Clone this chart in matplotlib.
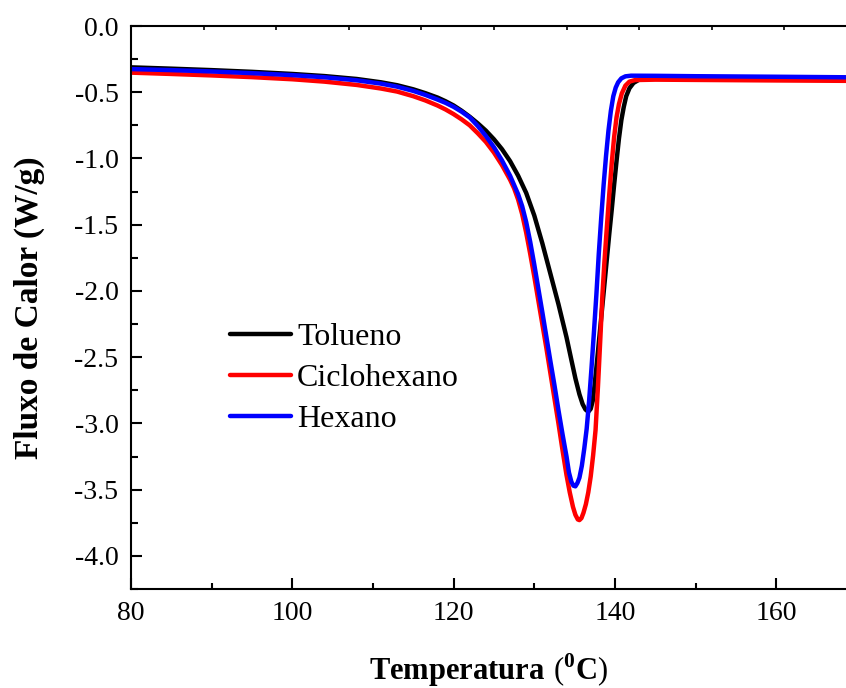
import matplotlib
matplotlib.use("Agg")
import matplotlib.pyplot as plt
from matplotlib.ticker import MultipleLocator

plt.rcParams["font.family"] = "Liberation Serif"
plt.rcParams["mathtext.fontset"] = "custom"
plt.rcParams["mathtext.rm"] = "Liberation Serif"
plt.rcParams["mathtext.bf"] = "Liberation Serif:bold"

# DSC curves (heat flow vs temperature) for each solvent
t_tolueno = [80, 85, 90, 95, 100, 104, 108, 111, 113, 115, 116.5, 118, 119,
             120, 121, 122, 123, 124, 125, 126, 127, 128, 129, 130, 131, 132,
             133, 134, 134.6, 135.1, 135.6, 136.0, 136.35, 136.7, 137.0, 137.25,
             137.5, 137.8, 138.1, 138.4, 138.7, 139.0, 139.3, 139.6, 139.9,
             140.2, 140.5, 140.8, 141.1, 141.4, 141.8, 142.3, 143, 144, 150, 160,
             168.7]
q_tolueno = [-0.312, -0.322, -0.333, -0.346, -0.362, -0.378, -0.40, -0.425,
             -0.447, -0.478, -0.507, -0.54, -0.568, -0.60, -0.64, -0.685,
             -0.735, -0.79, -0.855, -0.93, -1.02, -1.13, -1.26, -1.43, -1.64,
             -1.87, -2.10, -2.35, -2.52, -2.66, -2.78, -2.855, -2.895, -2.912,
             -2.89, -2.83, -2.70, -2.52, -2.33, -2.14, -1.95, -1.76, -1.57,
             -1.39, -1.20, -1.02, -0.85, -0.71, -0.61, -0.53, -0.47, -0.43,
             -0.405, -0.398, -0.395, -0.397, -0.40]

t_ciclohexano = [80, 85, 90, 95, 100, 104, 108, 111, 113, 115, 116.5, 118, 119,
                 120, 121, 122, 123, 124, 125, 126, 127, 127.5, 128, 128.5, 129,
                 129.5, 130, 130.5, 131, 131.5, 132, 132.5, 133, 133.5, 134,
                 134.4, 134.8, 135.1, 135.4, 135.6, 135.85, 136.1, 136.4, 136.7,
                 137.0, 137.3, 137.6, 137.9, 138.2, 138.45, 138.7, 139.0, 139.3,
                 139.6, 139.9, 140.2, 140.5, 140.85, 141.3, 141.8, 142.5, 145,
                 150, 160, 168.7]
q_ciclohexano = [-0.352, -0.362, -0.373, -0.386, -0.402, -0.42, -0.445, -0.472,
                 -0.495, -0.53, -0.562, -0.60, -0.63, -0.665, -0.705, -0.75,
                 -0.81, -0.875, -0.955, -1.05, -1.16, -1.225, -1.31, -1.42,
                 -1.56, -1.72, -1.89, -2.07, -2.25, -2.43, -2.62, -2.81, -3.00,
                 -3.20, -3.39, -3.52, -3.63, -3.69, -3.725, -3.73, -3.715,
                 -3.675, -3.61, -3.52, -3.40, -3.24, -3.05, -2.72, -2.35, -2.03,
                 -1.78, -1.52, -1.27, -1.04, -0.84, -0.69, -0.59, -0.51, -0.45,
                 -0.42, -0.408, -0.405, -0.407, -0.411, -0.414]

t_hexano = [80, 85, 90, 95, 100, 104, 108, 111, 113, 115, 116.5, 118, 119, 120,
            121, 122, 123, 124, 125, 126, 127, 128, 128.5, 129, 129.5, 130, 130.5,
            131, 131.5, 132, 132.5, 133, 133.5, 134, 134.3, 134.6, 134.85, 135.1,
            135.35, 135.6, 135.9, 136.2, 136.5, 136.8, 137.1, 137.4, 137.7, 138.0,
            138.3, 138.6, 138.9, 139.2, 139.5, 139.8, 140.1, 140.4, 140.8, 141.3,
            142, 145, 150, 160, 168.7]
q_hexano = [-0.325, -0.333, -0.343, -0.356, -0.371, -0.387, -0.41, -0.435,
            -0.458, -0.49, -0.52, -0.555, -0.58, -0.61, -0.647, -0.69, -0.755,
            -0.83, -0.915, -1.015, -1.13, -1.27, -1.36, -1.48, -1.63, -1.80,
            -1.98, -2.16, -2.345, -2.53, -2.71, -2.90, -3.08, -3.25, -3.37,
            -3.44, -3.47, -3.475, -3.45, -3.41, -3.32, -3.19, -3.04, -2.83,
            -2.58, -2.31, -2.03, -1.72, -1.45, -1.20, -0.98, -0.79, -0.64,
            -0.53, -0.465, -0.425, -0.395, -0.38, -0.375, -0.376, -0.379,
            -0.383, -0.387]

series = [
    (t_tolueno, q_tolueno, "black", "Tolueno"),
    (t_ciclohexano, q_ciclohexano, "#ff0000", "Ciclohexano"),
    (t_hexano, q_hexano, "#0000ff", "Hexano"),
]

fig = plt.figure(figsize=(8.46, 6.88), dpi=100)
ax = fig.add_axes([0.1548, 0.1439, 0.8452, 0.8183])

for t, q, color, label in series:
    ax.plot(t, q, color=color, lw=3.2, label=label, solid_capstyle="round",
            solid_joinstyle="round")

ax.set_xlim(80, 168.65)
ax.set_ylim(-4.25, 0.0)
ax.xaxis.set_major_locator(MultipleLocator(20))
ax.xaxis.set_minor_locator(MultipleLocator(10))
ax.yaxis.set_major_locator(MultipleLocator(0.5))
ax.yaxis.set_minor_locator(MultipleLocator(0.25))
ax.yaxis.set_major_formatter(plt.FuncFormatter(lambda v, _: f"{v:.1f}"))

ax.tick_params(which="both", direction="in", width=1.5, labelsize=20,
               top=False, right=False)
ax.tick_params(axis="x", which="major", length=8, pad=9)
ax.tick_params(axis="x", which="minor", length=4)
ax.tick_params(axis="y", which="major", length=8, pad=9)
ax.tick_params(axis="y", which="minor", length=5)

for s in ("left", "bottom", "top"):
    ax.spines[s].set_linewidth(1.5)
ax.spines["right"].set_visible(False)

# small ticks along the top spine
top = ax.secondary_xaxis("top")
top.set_xticks([80 + 9 * k for k in range(10)])
top.tick_params(direction="in", length=3, width=1.2, labeltop=False)
top.spines["top"].set_visible(False)

ax.set_ylabel("Fluxo de Calor (W/g)", fontsize=24, fontweight="bold",
              labelpad=21)
ax.set_xlabel(r"$\mathbf{Temperatura}\ (^{\mathbf{0}}\mathbf{C})$", fontsize=22,
              labelpad=18)

ax.legend(loc="center left", bbox_to_anchor=(0.1385, 0.374), frameon=False,
          fontsize=23, handlelength=1.9, handletextpad=0.2, labelspacing=0.37,
          borderpad=0, borderaxespad=0)

fig.savefig("out.png", dpi=100, facecolor="white")
